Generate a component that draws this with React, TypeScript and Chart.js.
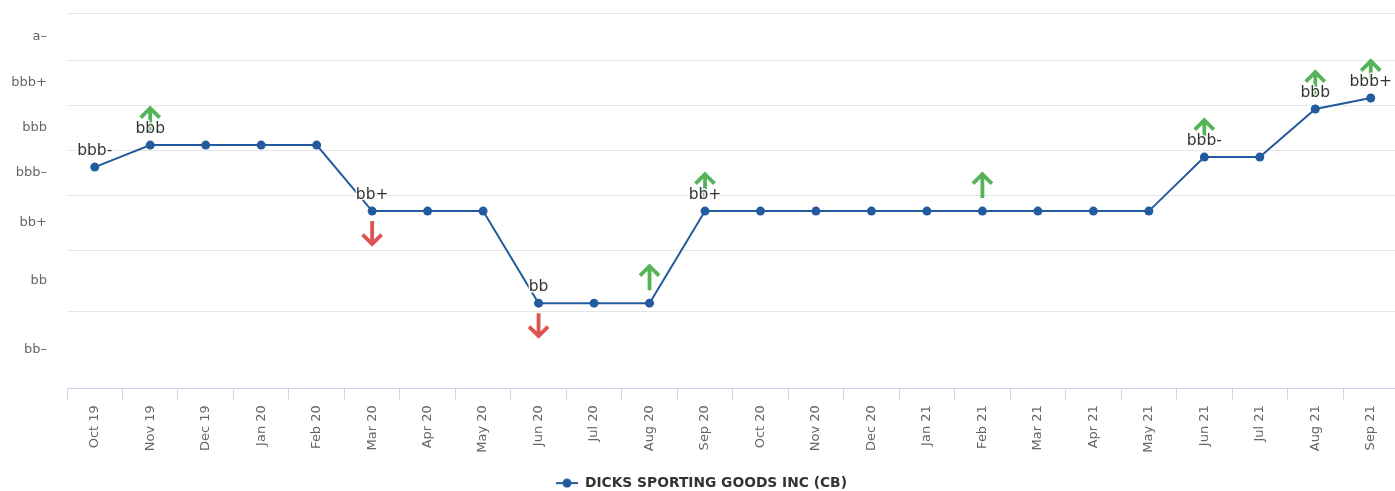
import { useEffect, useRef } from 'react';
import { Chart, registerables } from 'chart.js';

Chart.register(...registerables);

// Monthly observations
const MONTHS = [
  'Oct 19', 'Nov 19', 'Dec 19', 'Jan 20', 'Feb 20', 'Mar 20', 'Apr 20', 'May 20',
  'Jun 20', 'Jul 20', 'Aug 20', 'Sep 20', 'Oct 20', 'Nov 20', 'Dec 20', 'Jan 21',
  'Feb 21', 'Mar 21', 'Apr 21', 'May 21', 'Jun 21', 'Jul 21', 'Aug 21', 'Sep 21',
];

// Credit score on the rating scale (0 = bottom of bb-, 375 = top of a-)
const SCORES = [
  221, 243, 243, 243, 243, 177, 177, 177,
  85, 85, 85, 177, 177, 177, 177, 177,
  177, 177, 177, 177, 231, 231, 279, 290,
];

// Band edges of the rating scale and the name of each band, bottom to top
const RATING_BOUNDS = [0, 77, 138, 193, 238, 283, 328, 375];
const RATING_NAMES = ['bb–', 'bb', 'bb+', 'bbb–', 'bbb', 'bbb+', 'a–'];

// Rating shown above a point when it changes
const POINT_LABELS = [
  'bbb-', 'bbb', '', '', '', 'bb+', '', '',
  'bb', '', '', 'bb+', '', '', '', '',
  '', '', '', '', 'bbb-', '', 'bbb', 'bbb+',
];

// Direction of each rating / outlook change
const CHANGES = [
  '', 'up', '', '', '', 'down', '', '',
  'down', '', 'up', 'up', '', '', '', '',
  'up', '', '', '', 'up', '', 'up', 'up',
];

const SERIES_NAME = 'DICKS SPORTING GOODS INC (CB)';

const FONT = '"DejaVu Sans", sans-serif';
const LINE_COLOR = '#245b9e';
const UP_COLOR = '#55b459';
const DOWN_COLOR = '#e05252';

const bandCenters = RATING_BOUNDS.slice(0, -1).map((b, i) => (b + RATING_BOUNDS[i + 1]) / 2);

function makeLegendSymbol(): HTMLCanvasElement {
  const c = document.createElement('canvas');
  c.width = 22;
  c.height = 10;
  const g = c.getContext('2d')!;
  g.strokeStyle = LINE_COLOR;
  g.lineWidth = 2;
  g.beginPath();
  g.moveTo(0, 5);
  g.lineTo(22, 5);
  g.stroke();
  g.fillStyle = LINE_COLOR;
  g.beginPath();
  g.arc(11, 5, 4.5, 0, Math.PI * 2);
  g.fill();
  return c;
}

// Draws the change arrows and rating labels on top of the line
const ratingMarks = {
  id: 'ratingMarks',
  afterDatasetsDraw(chart: any) {
    const ctx: CanvasRenderingContext2D = chart.ctx;
    const meta = chart.getDatasetMeta(0);
    ctx.save();
    ctx.lineWidth = 3.8;
    ctx.lineCap = 'butt';
    ctx.lineJoin = 'miter';
    meta.data.forEach((pt: any, i: number) => {
      const dir = CHANGES[i];
      if (!dir) return;
      const x = pt.x;
      const y = pt.y;
      ctx.beginPath();
      if (dir === 'up') {
        ctx.strokeStyle = UP_COLOR;
        const tip = y - 37;
        ctx.moveTo(x, y - 13);
        ctx.lineTo(x, tip + 1);
        ctx.moveTo(x - 9.5, tip + 9.5);
        ctx.lineTo(x, tip);
        ctx.lineTo(x + 9.5, tip + 9.5);
      } else {
        ctx.strokeStyle = DOWN_COLOR;
        const tip = y + 33;
        ctx.moveTo(x, y + 10);
        ctx.lineTo(x, tip - 1);
        ctx.moveTo(x - 9.5, tip - 9.5);
        ctx.lineTo(x, tip);
        ctx.lineTo(x + 9.5, tip - 9.5);
      }
      ctx.stroke();
    });

    ctx.font = `15.5px ${FONT}`;
    ctx.textAlign = 'center';
    ctx.textBaseline = 'alphabetic';
    ctx.lineJoin = 'round';
    meta.data.forEach((pt: any, i: number) => {
      const text = POINT_LABELS[i];
      if (!text) return;
      const ty = pt.y - 12;
      ctx.strokeStyle = 'rgba(255,255,255,0.9)';
      ctx.lineWidth = 3;
      ctx.strokeText(text, pt.x, ty);
      ctx.fillStyle = '#333333';
      ctx.fillText(text, pt.x, ty);
    });
    ctx.restore();
  },
};

export default function App() {
  const canvasRef = useRef<HTMLCanvasElement | null>(null);

  useEffect(() => {
    const canvas = canvasRef.current;
    if (!canvas) return;
    const legendSymbol = makeLegendSymbol();

    const chart = new Chart(canvas, {
      type: 'line',
      data: {
        labels: MONTHS,
        datasets: [
          {
            label: SERIES_NAME,
            data: SCORES,
            borderColor: LINE_COLOR,
            backgroundColor: LINE_COLOR,
            borderWidth: 2,
            pointRadius: 4.5,
            pointBorderWidth: 0,
            pointBackgroundColor: LINE_COLOR,
            tension: 0,
            fill: false,
          },
        ],
      },
      options: {
        animation: false,
        responsive: false,
        devicePixelRatio: 1,
        layout: { padding: { top: 13, left: 0, right: 0, bottom: 0 } },
        plugins: {
          tooltip: { enabled: false },
          legend: {
            display: true,
            position: 'bottom',
            labels: {
              usePointStyle: true,
              pointStyleWidth: 22,
              padding: 10,
              color: '#333333',
              font: { family: FONT, size: 13.8, weight: 'bold' },
              generateLabels: (ch: any) =>
                ch.data.datasets.map((ds: any, i: number) => ({
                  text: ds.label,
                  fillStyle: LINE_COLOR,
                  strokeStyle: LINE_COLOR,
                  lineWidth: 0,
                  pointStyle: legendSymbol,
                  hidden: false,
                  datasetIndex: i,
                  fontColor: '#333333',
                })),
            },
          },
        },
        scales: {
          x: {
            type: 'category',
            offset: true,
            afterFit: (scale: any) => {
              scale.height = 78;
            },
            border: { display: true, color: '#ccd6eb', width: 1 },
            grid: {
              display: true,
              offset: true,
              drawOnChartArea: false,
              drawTicks: true,
              tickLength: 12,
              color: '#ccd6eb',
            },
            ticks: {
              autoSkip: false,
              maxRotation: 90,
              minRotation: 90,
              padding: 5,
              color: '#666666',
              font: { family: FONT, size: 13 },
            },
          },
          y: {
            type: 'linear',
            min: RATING_BOUNDS[0],
            max: RATING_BOUNDS[RATING_BOUNDS.length - 1],
            afterFit: (scale: any) => {
              scale.width = 67;
              scale.paddingTop = 0;
              scale.paddingBottom = 0;
            },
            afterBuildTicks: (scale: any) => {
              const values = [...RATING_BOUNDS, ...bandCenters].sort((a, b) => a - b);
              scale.ticks = values.map((v) => ({ value: v }));
            },
            border: { display: false },
            grid: {
              drawTicks: false,
              lineWidth: 1,
              color: (c: any) => {
                const v = c.tick ? c.tick.value : null;
                if (v === null || v === RATING_BOUNDS[0]) return 'rgba(0,0,0,0)';
                return RATING_BOUNDS.includes(v) ? '#e6e6e6' : 'rgba(0,0,0,0)';
              },
            },
            ticks: {
              padding: 20,
              color: '#666666',
              font: { family: FONT, size: 13 },
              callback: (value: any) => {
                const idx = bandCenters.indexOf(Number(value));
                return idx >= 0 ? RATING_NAMES[idx] : '';
              },
            },
          },
        },
      } as any,
      plugins: [ratingMarks],
    });

    return () => {
      chart.destroy();
    };
  }, []);

  return (
    <div
      style={{
        position: 'absolute',
        left: 0,
        top: 0,
        width: 1395,
        height: 491,
        overflow: 'hidden',
        background: '#ffffff',
      }}
    >
      <canvas ref={canvasRef} width={1403} height={500} style={{ width: 1403, height: 500, display: 'block' }} />
    </div>
  );
}
